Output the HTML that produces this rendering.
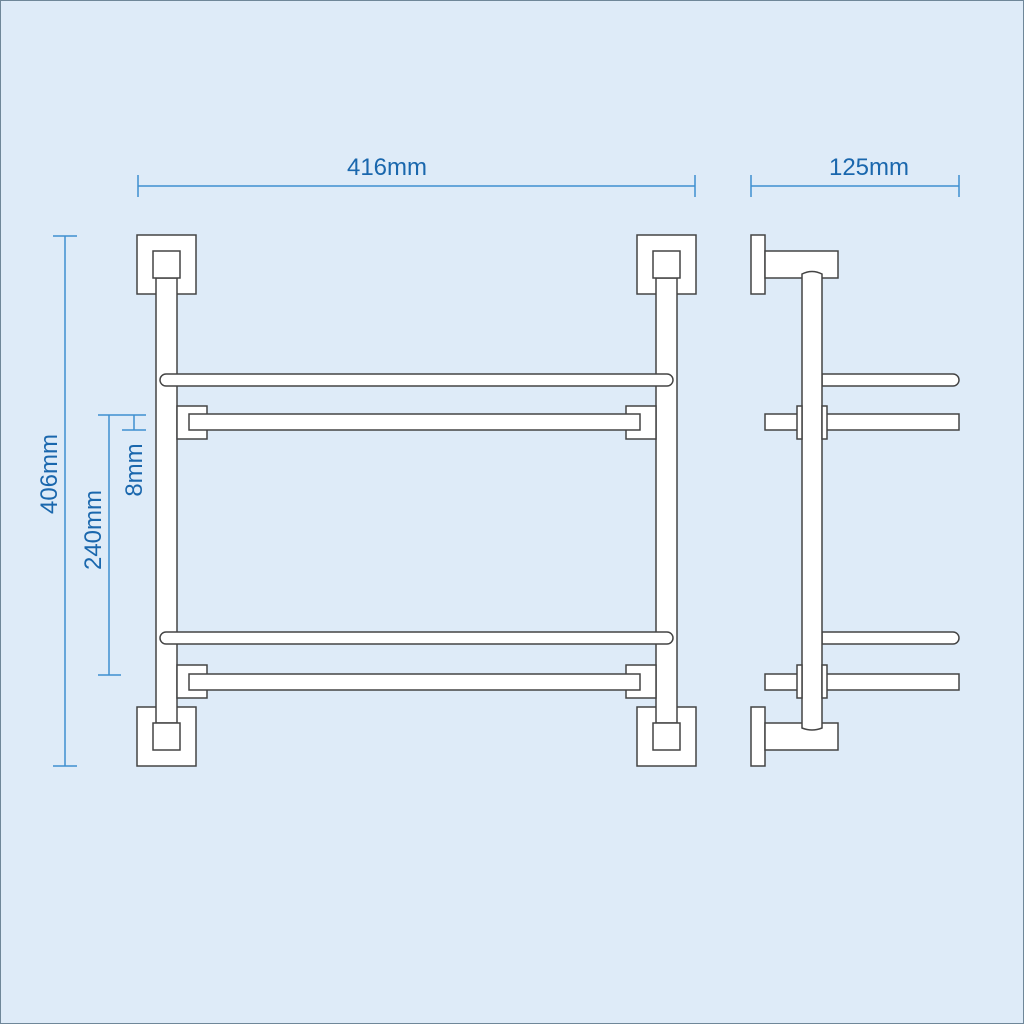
<!DOCTYPE html>
<html><head><style>
html,body{margin:0;padding:0;background:#deebf8;}
svg{display:block}
text{font-family:"Liberation Sans",sans-serif;font-size:24px;fill:#1a67ad}
</style></head><body>
<svg width="1024" height="1024" viewBox="0 0 1024 1024">
<rect x="0.5" y="0.5" width="1023" height="1023" fill="#deebf8" stroke="#6f8799" stroke-width="1"/>
<g stroke="#3f8fd0" stroke-width="1.5" fill="none">
<line x1="138" y1="186" x2="695" y2="186"/><line x1="138" y1="175" x2="138" y2="197"/><line x1="695" y1="175" x2="695" y2="197"/>
<line x1="751" y1="186" x2="959" y2="186"/><line x1="751" y1="175" x2="751" y2="197"/><line x1="959" y1="175" x2="959" y2="197"/>
<line x1="65" y1="236" x2="65" y2="766"/><line x1="53" y1="236" x2="77" y2="236"/><line x1="53" y1="766" x2="77" y2="766"/>
<line x1="109" y1="415" x2="109" y2="675"/><line x1="98" y1="415" x2="146" y2="415"/><line x1="98" y1="675" x2="121" y2="675"/>
<line x1="134" y1="415" x2="134" y2="430"/><line x1="122" y1="430" x2="146" y2="430"/>
</g>
<text x="387" y="175" text-anchor="middle">416mm</text>
<text x="869" y="175" text-anchor="middle">125mm</text>
<text transform="translate(57,474) rotate(-90)" text-anchor="middle">406mm</text>
<text transform="translate(101,530) rotate(-90)" text-anchor="middle">240mm</text>
<text transform="translate(142,470) rotate(-90)" text-anchor="middle">8mm</text>
<g fill="#fff" stroke="#444" stroke-width="1.5">
<rect x="137" y="235" width="59" height="59"/><rect x="137" y="707" width="59" height="59"/>
<rect x="637" y="235" width="59" height="59"/><rect x="637" y="707" width="59" height="59"/>
<rect x="156" y="278" width="21" height="445"/><rect x="656" y="278" width="21" height="445"/>
<rect x="153" y="251" width="27" height="27"/><rect x="153" y="723" width="27" height="27"/>
<rect x="653" y="251" width="27" height="27"/><rect x="653" y="723" width="27" height="27"/>
<rect x="160" y="374" width="513" height="12" rx="6"/>
<rect x="160" y="632" width="513" height="12" rx="6"/>
<rect x="177" y="406" width="30" height="33"/><rect x="626" y="406" width="30" height="33"/>
<rect x="189" y="414" width="451" height="16"/>
<rect x="177" y="665" width="30" height="33"/><rect x="626" y="665" width="30" height="33"/>
<rect x="189" y="674" width="451" height="16"/>
<rect x="751" y="235" width="14" height="59"/><rect x="765" y="251" width="73" height="27"/>
<rect x="751" y="707" width="14" height="59"/><rect x="765" y="723" width="73" height="27"/>
<path d="M822 374 H953 a6 6 0 0 1 0 12 H822 Z"/>
<path d="M822 632 H953 a6 6 0 0 1 0 12 H822 Z"/>
<rect x="765" y="414" width="194" height="16"/>
<rect x="765" y="674" width="194" height="16"/>
<path d="M802 274 Q812 269 822 274 V728 Q812 732 802 728 Z"/>
<rect x="797" y="406" width="5" height="33"/><rect x="822" y="406" width="5" height="33"/>
<rect x="797" y="665" width="5" height="33"/><rect x="822" y="665" width="5" height="33"/>
</g>
</svg>
</body></html>
